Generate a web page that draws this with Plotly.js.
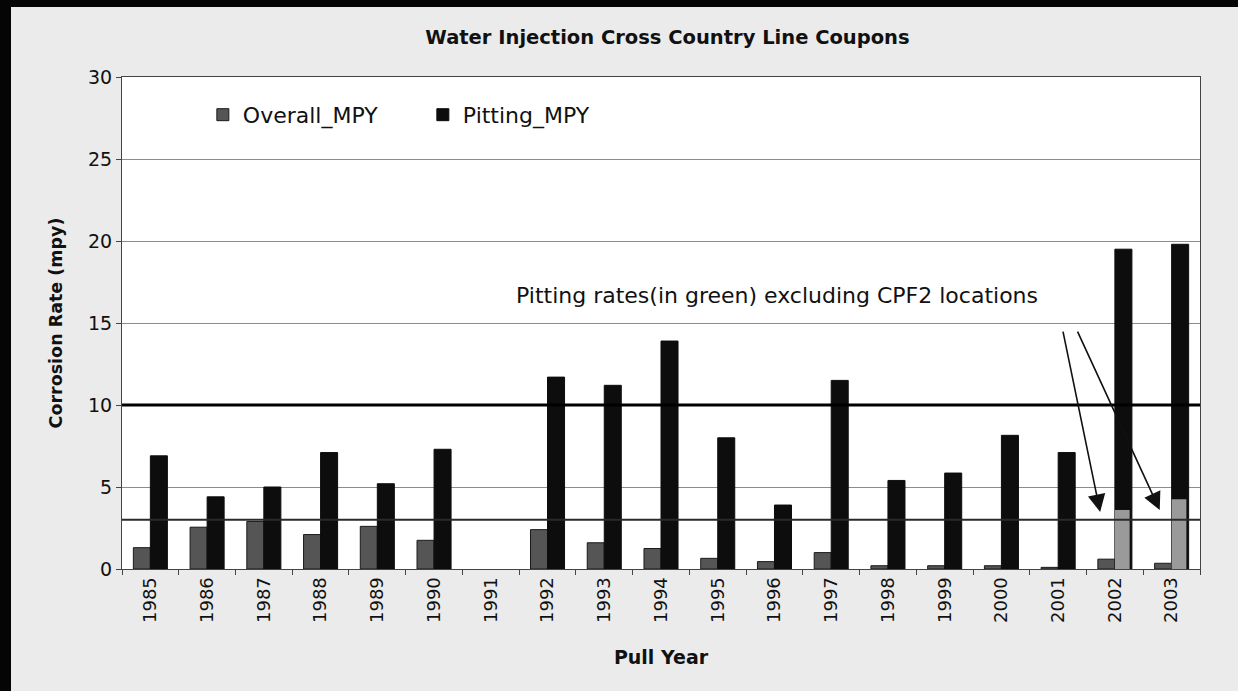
<!DOCTYPE html>
<html>
<head>
<meta charset="utf-8">
<script src="https://cdn.plot.ly/plotly-3.0.1.min.js"></script>
<style>
  html, body { margin: 0; padding: 0; background: #050505; width: 1238px; height: 691px; overflow: hidden; }
  #chart { position: absolute; left: 11px; top: 7px; width: 1227px; height: 684px; }
</style>
</head>
<body>
<div id="chart"></div>
<script>
// ---- data ----
const years = ["1985","1986","1987","1988","1989","1990","1991","1992","1993","1994",
               "1995","1996","1997","1998","1999","2000","2001","2002","2003"];
const overallMPY = [1.3, 2.55, 2.9, 2.1, 2.6, 1.75, null, 2.4, 1.6, 1.25,
                    0.65, 0.45, 1.0, 0.2, 0.2, 0.2, 0.1, 0.6, 0.35];
const pittingMPY = [6.9, 4.4, 5.0, 7.1, 5.2, 7.3, null, 11.7, 11.2, 13.9,
                    8.0, 3.9, 11.5, 5.4, 5.85, 8.15, 7.1, 19.5, 19.8];
const greenYears = ["2002","2003"];
const pittingExclCPF2 = [3.6, 4.25];
const refLevels = [10, 3];

const FONT = "DejaVu Sans, Arial, sans-serif";

const traces = [
  {
    type: "bar", name: "Overall_MPY", x: years, y: overallMPY,
    offset: -0.3, width: 0.3,
    marker: { color: "#555555", line: { color: "#1a1a1a", width: 1 } }
  },
  {
    type: "bar", name: "Pitting_MPY", x: years, y: pittingMPY,
    offset: 0.0, width: 0.3,
    marker: { color: "#0d0d0d", line: { color: "#0d0d0d", width: 1 } }
  },
  {
    type: "bar", name: "Pitting excl. CPF2", x: greenYears, y: pittingExclCPF2,
    offset: 0.0, width: 0.26, showlegend: false,
    marker: { color: "#9a9a9a", line: { width: 0 } }
  }
];

const shapes = [
  { type: "line", xref: "paper", yref: "y", x0: 0, x1: 1, y0: refLevels[0], y1: refLevels[0],
    line: { color: "#000000", width: 3 }, layer: "above" },
  { type: "line", xref: "paper", yref: "y", x0: 0, x1: 1, y0: refLevels[1], y1: refLevels[1],
    line: { color: "#2a2a2a", width: 2 }, layer: "above" }
];

const annotations = [
  { xref: "paper", yref: "paper", x: 0.608, y: 0.555, xanchor: "center", yanchor: "middle",
    text: "Pitting rates(in green) excluding CPF2 locations", showarrow: false,
    font: { family: FONT, size: 22, color: "#111" } },
  { xref: "x", yref: "y", axref: "x", ayref: "y", x: 16.74, y: 3.48, ax: 16.08, ay: 14.57,
    text: "", showarrow: true, arrowhead: 2, arrowsize: 2.2, arrowwidth: 1.6, arrowcolor: "#111" },
  { xref: "x", yref: "y", axref: "x", ayref: "y", x: 17.79, y: 3.6, ax: 16.33, ay: 14.57,
    text: "", showarrow: true, arrowhead: 2, arrowsize: 2.2, arrowwidth: 1.6, arrowcolor: "#111" }
];

const layout = {
  width: 1227, height: 684,
  margin: { l: 111, r: 38, t: 70, b: 122 },
  paper_bgcolor: "#ebebeb",
  plot_bgcolor: "#ffffff",
  barmode: "overlay",
  font: { family: FONT, color: "#111" },
  title: {
    text: "<b>Water Injection Cross Country Line Coupons</b>",
    font: { family: FONT, size: 19.5, color: "#111" },
    xref: "paper", x: 0.506, xanchor: "center",
    yref: "container", y: 1 - 30 / 684, yanchor: "middle"
  },
  xaxis: {
    type: "category",
    tickangle: -90,
    tickfont: { family: FONT, size: 18, color: "#111" },
    ticks: "outside", ticklen: 5, tickcolor: "#444", tickson: "boundaries",
    showline: true, linecolor: "#444", linewidth: 1, mirror: true,
    showgrid: false,
    title: { text: "<b>Pull Year</b>", font: { family: FONT, size: 19, color: "#111" }, standoff: 28 },
    automargin: false
  },
  yaxis: {
    range: [0, 30], dtick: 5, tick0: 0,
    tickfont: { family: FONT, size: 19, color: "#111" },
    ticks: "outside", ticklen: 5, tickcolor: "#444",
    showline: true, linecolor: "#444", linewidth: 1, mirror: true,
    showgrid: true, gridcolor: "#8c8c8c", gridwidth: 1,
    zeroline: false,
    title: { text: "<b>Corrosion Rate (mpy)</b>", font: { family: FONT, size: 17.5, color: "#111" }, standoff: 20 },
    automargin: false
  },
  legend: {
    orientation: "h",
    x: 0.075, y: 0.923, xanchor: "left", yanchor: "middle",
    bgcolor: "rgba(0,0,0,0)",
    font: { family: FONT, size: 22, color: "#111" },
    entrywidth: 175, entrywidthmode: "pixels",
    traceorder: "normal"
  },
  shapes: shapes,
  annotations: annotations
};

Plotly.newPlot("chart", traces, layout, { displayModeBar: false, staticPlot: true });
</script>
</body>
</html>
